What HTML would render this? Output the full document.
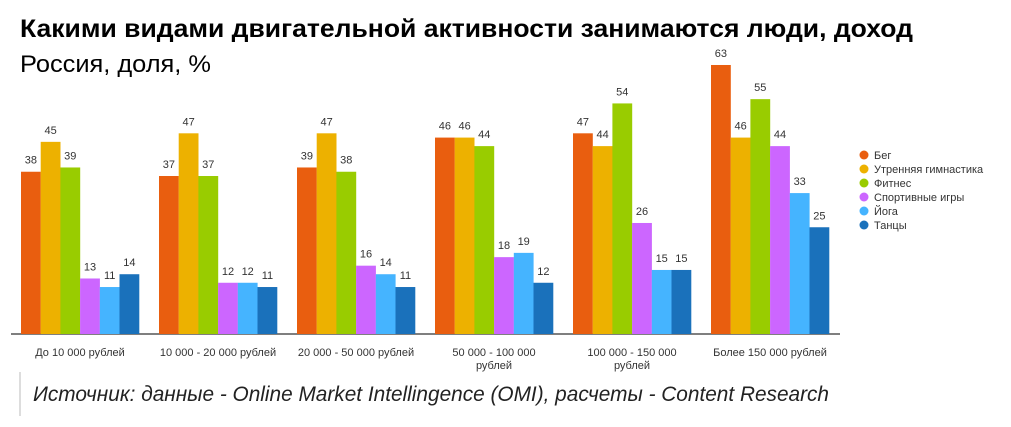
<!DOCTYPE html>
<html><head><meta charset="utf-8"><style>
body{margin:0;background:#fff;width:1011px;height:422px;overflow:hidden;font-family:"Liberation Sans",sans-serif}
</style></head><body>
<svg width="1011" height="422" xmlns="http://www.w3.org/2000/svg" font-family="Liberation Sans, sans-serif">
<text x="20" y="37" font-size="25" font-weight="bold" fill="#000" textLength="893" lengthAdjust="spacingAndGlyphs">Какими видами двигательной активности занимаются люди, доход</text>
<text x="20" y="72" font-size="24" fill="#000" textLength="191" lengthAdjust="spacingAndGlyphs">Россия, доля, %</text>
<line x1="11" y1="334" x2="840" y2="334" stroke="#555" stroke-width="1.5"/>
<g id="bars"></g>
<g font-size="11" fill="#333" text-anchor="middle">
<text x="80" y="356">До 10 000 рублей</text>
<text x="218" y="356">10 000 - 20 000 рублей</text>
<text x="356" y="356">20 000 - 50 000 рублей</text>
<text x="494" y="356">50 000 - 100 000</text><text x="494" y="369">рублей</text>
<text x="632" y="356">100 000 - 150 000</text><text x="632" y="369">рублей</text>
<text x="770" y="356">Более 150 000 рублей</text>
</g>
<g font-size="11" fill="#333">
<circle cx="864" cy="155" r="4.5" fill="#E95E0F"/><text x="874" y="159">Бег</text>
<circle cx="864" cy="169" r="4.5" fill="#EDB100"/><text x="874" y="173">Утренняя гимнастика</text>
<circle cx="864" cy="183" r="4.5" fill="#99CC00"/><text x="874" y="187">Фитнес</text>
<circle cx="864" cy="197" r="4.5" fill="#CC66FF"/><text x="874" y="201">Спортивные игры</text>
<circle cx="864" cy="211" r="4.5" fill="#45B4FF"/><text x="874" y="215">Йога</text>
<circle cx="864" cy="225" r="4.5" fill="#1A71BB"/><text x="874" y="229">Танцы</text>
</g>
<line x1="20" y1="372" x2="20" y2="416" stroke="#bbb" stroke-width="1"/>
<text x="33" y="401" font-size="21" font-style="italic" fill="#222" textLength="796" lengthAdjust="spacingAndGlyphs">Источник: данные - Online Market Intellingence (OMI), расчеты - Content Research</text>
</svg>
<script>
var d=[[38,45,39,13,11,14],[37,47,37,12,12,11],[39,47,38,16,14,11],[46,46,44,18,19,12],[47,44,54,26,15,15],[63,46,55,44,33,25]];
var c=["#E95E0F","#EDB100","#99CC00","#CC66FF","#45B4FF","#1A71BB"];
var g=document.getElementById("bars"),s="";
for(var i=0;i<6;i++)for(var j=0;j<6;j++){var x=21+i*138+j*19.7,h=d[i][j]*4.27,y=334-h;
s+='<rect x="'+x+'" y="'+y+'" width="19.8" height="'+h+'" fill="'+c[j]+'"/>';
s+='<text x="'+(x+9.9)+'" y="'+(y-8)+'" font-size="11" fill="#333" text-anchor="middle">'+d[i][j]+'</text>';}
g.innerHTML=s;
</script>
</body></html>
